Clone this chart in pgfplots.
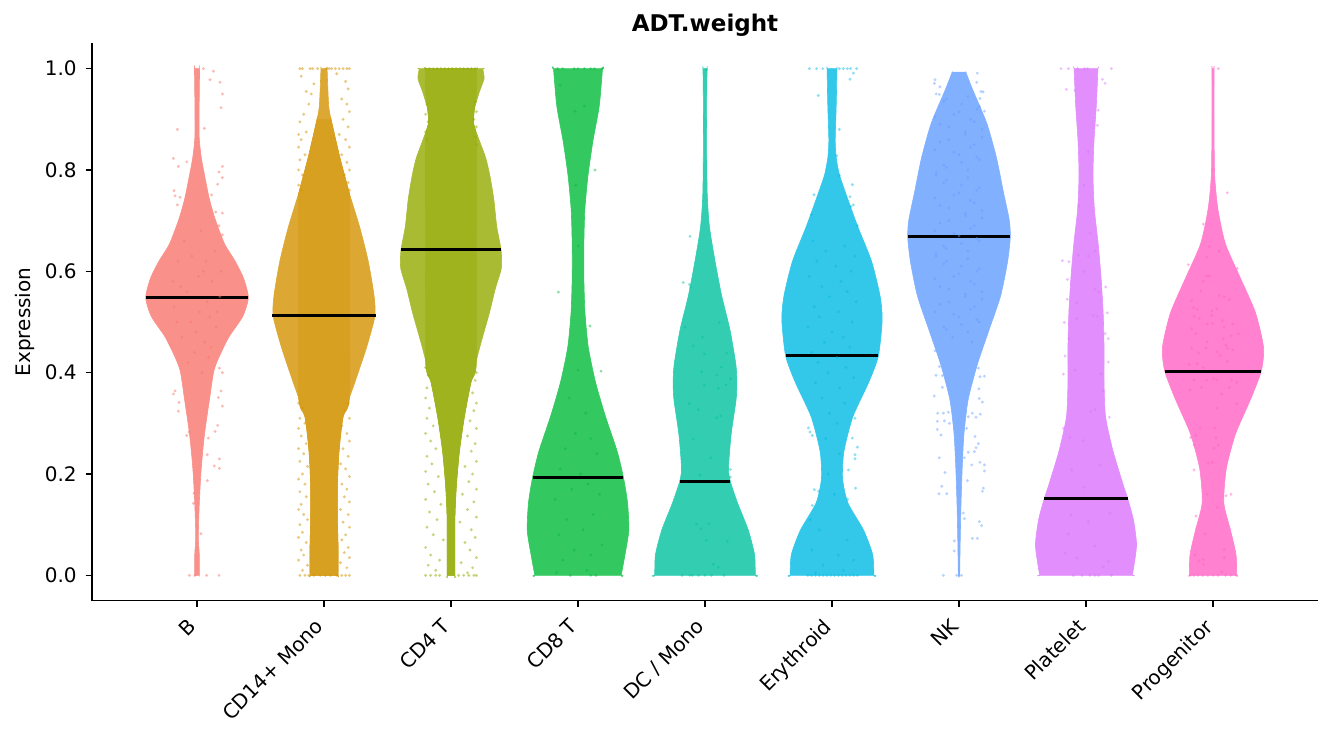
\documentclass[border=0pt]{standalone}
\usepackage{pgfplots}
\pgfplotsset{compat=1.18}
\usepackage{pgfplotstable}
\usepackage{fontspec}
\setmainfont{DejaVu Sans}
% point colours (ggplot hue palette)
\definecolor{cB}{HTML}{F8766D}
\definecolor{cCDf}{HTML}{D39200}
\definecolor{cCDt}{HTML}{93AA00}
\definecolor{cCDe}{HTML}{00BA38}
\definecolor{cDC}{HTML}{00C19F}
\definecolor{cEr}{HTML}{00B9E3}
\definecolor{cNK}{HTML}{619CFF}
\definecolor{cPl}{HTML}{DB72FB}
\definecolor{cPr}{HTML}{FF61C3}
% violin fills (palette at 80% over white)
\definecolor{vB}{HTML}{F9918A}
\definecolor{vCDf}{HTML}{DCA833}
\definecolor{vCDt}{HTML}{A9BB33}
\definecolor{vCDe}{HTML}{33C860}
\definecolor{vDC}{HTML}{33CDB2}
\definecolor{vEr}{HTML}{33C7E9}
\definecolor{vNK}{HTML}{81B0FF}
\definecolor{vPl}{HTML}{E28EFC}
\definecolor{vPr}{HTML}{FF81CF}
% dense point bands
\definecolor{bCDfc}{HTML}{D8A020}
\definecolor{bCDtc}{HTML}{9FB31E}

% violin outlines: y, half width (centre-line ends, corner rows doubled)
\pgfplotstableread[row sep=\\]{y w\\ 1.0 0\\ 1.0 0.02\\ 1.0 0.02\\ 0.872 0.016\\ 0.824 0.034\\ 0.79 0.059\\ 0.742 0.098\\ 0.702 0.144\\ 0.654 0.217\\ 0.62 0.30\\ 0.586 0.367\\ 0.548 0.404\\ 0.511 0.36\\ 0.47 0.25\\ 0.429 0.17\\ 0.402 0.131\\ 0.347 0.098\\ 0.279 0.059\\ 0.211 0.033\\ 0.143 0.018\\ 0.075 0.01\\ 0.041 0.018\\ 0 0.018\\ 0 0.018\\ 0 0\\}\tB
\pgfplotstableread[row sep=\\]{y w\\ 1.0 0\\ 1.0 0.024\\ 1.0 0.024\\ 0.926 0.037\\ 0.892 0.062\\ 0.824 0.125\\ 0.756 0.197\\ 0.688 0.28\\ 0.62 0.348\\ 0.552 0.394\\ 0.511 0.40\\ 0.45 0.335\\ 0.381 0.243\\ 0.313 0.15\\ 0.245 0.118\\ 0.177 0.105\\ 0.109 0.105\\ 0.061 0.11\\ 0 0.11\\ 0 0.11\\ 0 0\\}\tCDf
\pgfplotstableread[row sep=\\]{y w\\ 1.0 0\\ 1.0 0.25\\ 1.0 0.25\\ 0.98 0.26\\ 0.954 0.223\\ 0.92 0.184\\ 0.892 0.177\\ 0.858 0.223\\ 0.824 0.273\\ 0.79 0.305\\ 0.742 0.337\\ 0.688 0.36\\ 0.642 0.394\\ 0.606 0.396\\ 0.565 0.348\\ 0.518 0.302\\ 0.45 0.226\\ 0.381 0.157\\ 0.313 0.105\\ 0.245 0.066\\ 0.177 0.042\\ 0.109 0.03\\ 0 0.03\\ 0 0.03\\ 0 0\\}\tCDt
\pgfplotstableread[row sep=\\]{y w\\ 1.0 0\\ 1.0 0.193\\ 1.0 0.193\\ 0.926 0.167\\ 0.858 0.118\\ 0.79 0.079\\ 0.722 0.054\\ 0.654 0.046\\ 0.586 0.046\\ 0.518 0.055\\ 0.45 0.081\\ 0.381 0.138\\ 0.313 0.217\\ 0.245 0.308\\ 0.193 0.358\\ 0.143 0.39\\ 0.089 0.40\\ 0.041 0.37\\ 0 0.34\\ 0 0.34\\ 0 0\\}\tCDe
\pgfplotstableread[row sep=\\]{y w\\ 1.0 0\\ 1.0 0.016\\ 1.0 0.016\\ 0.892 0.012\\ 0.756 0.017\\ 0.688 0.035\\ 0.62 0.079\\ 0.552 0.131\\ 0.484 0.197\\ 0.416 0.243\\ 0.381 0.251\\ 0.347 0.245\\ 0.279 0.206\\ 0.211 0.185\\ 0.185 0.2\\ 0.143 0.256\\ 0.089 0.341\\ 0.041 0.39\\ 0 0.396\\ 0 0.396\\ 0 0\\}\tDC
\pgfplotstableread[row sep=\\]{y w\\ 1.0 0\\ 1.0 0.039\\ 1.0 0.039\\ 0.926 0.033\\ 0.858 0.025\\ 0.824 0.033\\ 0.79 0.059\\ 0.742 0.125\\ 0.688 0.203\\ 0.62 0.311\\ 0.552 0.378\\ 0.504 0.395\\ 0.433 0.365\\ 0.381 0.289\\ 0.313 0.164\\ 0.245 0.094\\ 0.191 0.083\\ 0.143 0.125\\ 0.089 0.249\\ 0.041 0.32\\ 0 0.33\\ 0 0.33\\ 0 0\\}\tEr
\pgfplotstableread[row sep=\\]{y w\\ 0.993 0\\ 0.993 0.054\\ 0.993 0.054\\ 0.96 0.105\\ 0.892 0.219\\ 0.824 0.295\\ 0.756 0.35\\ 0.702 0.395\\ 0.668 0.404\\ 0.62 0.383\\ 0.552 0.328\\ 0.484 0.236\\ 0.416 0.144\\ 0.347 0.072\\ 0.279 0.039\\ 0.211 0.025\\ 0.143 0.016\\ 0.075 0.01\\ 0 0.005\\ 0 0.005\\ 0 0\\}\tNK
\pgfplotstableread[row sep=\\]{y w\\ 1.0 0\\ 1.0 0.094\\ 1.0 0.094\\ 0.926 0.081\\ 0.858 0.063\\ 0.79 0.055\\ 0.722 0.066\\ 0.654 0.096\\ 0.586 0.119\\ 0.518 0.135\\ 0.45 0.142\\ 0.381 0.142\\ 0.313 0.154\\ 0.245 0.213\\ 0.177 0.295\\ 0.152 0.328\\ 0.109 0.374\\ 0.061 0.398\\ 0.02 0.378\\ 0 0.364\\ 0 0.364\\ 0 0\\}\tPl
\pgfplotstableread[row sep=\\]{y w\\ 1.0 0\\ 1.0 0.008\\ 1.0 0.008\\ 0.892 0.008\\ 0.79 0.013\\ 0.722 0.039\\ 0.654 0.098\\ 0.586 0.217\\ 0.518 0.335\\ 0.45 0.398\\ 0.403 0.38\\ 0.347 0.295\\ 0.279 0.177\\ 0.211 0.105\\ 0.143 0.085\\ 0.089 0.138\\ 0.041 0.181\\ 0 0.186\\ 0 0.186\\ 0 0\\}\tPr
% dense jitter bands (CD14+ Mono, CD4 T)
\pgfplotstableread[row sep=\\]{y w\\ 0.90 0\\ 0.90 0.055\\ 0.90 0.055\\ 0.824 0.125\\ 0.756 0.197\\ 0.74 0.2\\ 0.55 0.2\\ 0.35 0.2\\ 0.313 0.15\\ 0.245 0.118\\ 0.177 0.105\\ 0.109 0.105\\ 0.061 0.11\\ 0 0.11\\ 0 0.11\\ 0 0\\}\bCDf
\pgfplotstableread[row sep=\\]{y w\\ 1.0 0\\ 1.0 0.2\\ 1.0 0.2\\ 0.954 0.2\\ 0.92 0.184\\ 0.892 0.177\\ 0.858 0.2\\ 0.65 0.2\\ 0.42 0.2\\ 0.381 0.157\\ 0.313 0.105\\ 0.245 0.066\\ 0.177 0.042\\ 0.109 0.03\\ 0 0.03\\ 0 0.03\\ 0 0\\}\bCDt

% jittered points: offset d from the category, value y
\pgfplotstableread[row sep=\\]{d y\\ 0.05 1.0\\ 0.129 0.995\\ 0.102 0.978\\ 0.181 0.973\\ 0.2 0.95\\ 0.189 0.923\\ -0.155 0.88\\ 0.058 0.882\\ -0.186 0.823\\ -0.147 0.807\\ -0.081 0.816\\ 0.2 0.807\\ 0.173 0.796\\ 0.2 0.785\\ 0.163 0.772\\ -0.181 0.759\\ -0.173 0.749\\ -0.134 0.746\\ -0.155 0.731\\ 0.115 0.751\\ 0.147 0.717\\ 0.2 0.715\\ 0.173 0.69\\ 0.2 0.672\\ -0.186 0.358\\ -0.173 0.364\\ -0.142 0.341\\ -0.147 0.324\\ 0.176 0.409\\ 0.2 0.40\\ 0.168 0.351\\ 0.2 0.334\\ 0.189 0.364\\ 0.163 0.296\\ 0.142 0.284\\ -0.063 0.283\\ -0.081 0.276\\ 0.089 0.271\\ 0.081 0.238\\ 0.176 0.23\\ 0.136 0.216\\ 0.176 0.211\\ 0.081 0.187\\ -0.024 0.162\\ -0.029 0.142\\ 0.031 0.082\\ -0.06 0\\ -0.016 0\\ 0.076 0\\ 0.173 0\\ -0.15 0.62\\ 0.05 0.60\\ 0.12 0.58\\ -0.08 0.56\\ 0.18 0.55\\ -0.18 0.53\\ 0.02 0.52\\ 0.1 0.51\\ -0.05 0.50\\ 0.15 0.49\\ -0.12 0.47\\ 0.06 0.46\\ -0.02 0.44\\ 0.09 0.43\\ 0.14 0.64\\ -0.1 0.66\\ 0.03 0.68\\ -0.04 0.63\\ 0.19 0.6\\ -0.19 0.58\\ 0.08 0.54\\ -0.13 0.57\\ 0.11 0.45\\ -0.07 0.42\\ 0.01 0.59\\ 0.16 0.52\\ -0.16 0.5\\ 0.07 0.62\\ -0.01 0.48\\ 0.04 0.40\\}\pB
\pgfplotstableread[row sep=\\]{d y\\ -0.19 1\\ -0.17 1\\ -0.11 1\\ -0.09 1\\ -0.05 1\\ 0.02 1\\ 0.04 1\\ 0.06 1\\ 0.09 1\\ 0.12 1\\ 0.15 1\\ 0.18 1\\ 0.2 1\\ -0.18 0.985\\ 0.1 0.99\\ 0.17 0.975\\ -0.08 0.97\\ 0.19 0.96\\ -0.14 0.955\\ 0.14 0.94\\ 0.18 0.93\\ 0.2 0.915\\ 0.15 0.90\\ 0.19 0.885\\ 0.12 0.87\\ 0.17 0.86\\ 0.2 0.845\\ 0.14 0.83\\ 0.18 0.815\\ 0.2 0.80\\ 0.16 0.79\\ 0.19 0.775\\ 0.2 0.76\\ -0.12 0.93\\ -0.16 0.91\\ -0.19 0.895\\ -0.14 0.875\\ -0.18 0.86\\ -0.2 0.845\\ -0.15 0.83\\ -0.19 0.82\\ -0.2 0.80\\ -0.17 0.79\\ -0.2 0.77\\ -0.18 0.76\\ -0.1 0.95\\ -0.2 0.87\\ -0.2 0.34\\ -0.17 0.33\\ -0.19 0.31\\ -0.15 0.30\\ -0.2 0.29\\ -0.18 0.275\\ -0.14 0.26\\ -0.2 0.25\\ -0.16 0.24\\ -0.19 0.225\\ -0.13 0.215\\ -0.17 0.20\\ -0.2 0.19\\ -0.15 0.18\\ -0.19 0.165\\ -0.14 0.155\\ -0.18 0.14\\ -0.2 0.13\\ -0.16 0.12\\ -0.13 0.11\\ -0.19 0.10\\ -0.17 0.085\\ -0.2 0.075\\ -0.14 0.065\\ -0.18 0.05\\ -0.16 0.04\\ -0.2 0.03\\ -0.13 0.02\\ -0.17 0.01\\ 0.19 0.34\\ 0.16 0.325\\ 0.2 0.31\\ 0.14 0.295\\ 0.18 0.28\\ 0.2 0.265\\ 0.15 0.25\\ 0.19 0.235\\ 0.13 0.22\\ 0.17 0.21\\ 0.2 0.195\\ 0.14 0.18\\ 0.18 0.17\\ 0.16 0.155\\ 0.2 0.145\\ 0.13 0.13\\ 0.19 0.12\\ 0.15 0.105\\ 0.2 0.095\\ 0.17 0.08\\ 0.14 0.07\\ 0.19 0.055\\ 0.16 0.045\\ 0.2 0.035\\ 0.13 0.025\\ 0.18 0.015\\ -0.19 0\\ -0.15 0\\ -0.12 0\\ -0.08 0\\ -0.03 0\\ 0.01 0\\ 0.05 0\\ 0.1 0\\ 0.14 0\\ 0.17 0\\ 0.2 0\\}\pCDf
\pgfplotstableread[row sep=\\]{d y\\ -0.2 1\\ -0.17 1\\ -0.14 1\\ -0.11 1\\ -0.08 1\\ -0.05 1\\ -0.02 1\\ 0.01 1\\ 0.04 1\\ 0.07 1\\ 0.1 1\\ 0.13 1\\ 0.16 1\\ 0.19 1\\ -0.19 0.93\\ -0.2 0.91\\ -0.18 0.895\\ -0.2 0.875\\ -0.19 0.86\\ 0.19 0.935\\ 0.2 0.915\\ 0.18 0.9\\ 0.2 0.885\\ 0.19 0.865\\ 0.2 0.85\\ -0.2 0.41\\ -0.18 0.395\\ 0.2 0.40\\ 0.19 0.385\\ -0.19 0.37\\ 0.17 0.36\\ -0.2 0.35\\ 0.2 0.34\\ -0.17 0.33\\ 0.18 0.325\\ -0.19 0.31\\ 0.15 0.305\\ -0.14 0.295\\ 0.2 0.29\\ -0.2 0.28\\ 0.13 0.275\\ -0.16 0.265\\ 0.19 0.26\\ -0.12 0.25\\ 0.16 0.245\\ -0.19 0.235\\ 0.2 0.225\\ -0.15 0.22\\ 0.11 0.215\\ -0.2 0.205\\ 0.17 0.2\\ -0.1 0.195\\ 0.14 0.185\\ -0.18 0.18\\ 0.2 0.17\\ -0.13 0.165\\ 0.09 0.16\\ -0.2 0.15\\ 0.18 0.145\\ -0.08 0.14\\ 0.13 0.13\\ -0.17 0.125\\ 0.2 0.115\\ -0.11 0.11\\ 0.07 0.105\\ -0.19 0.095\\ 0.16 0.09\\ -0.14 0.08\\ 0.19 0.075\\ -0.06 0.07\\ 0.11 0.065\\ -0.2 0.055\\ 0.15 0.05\\ -0.16 0.04\\ 0.2 0.035\\ -0.09 0.03\\ 0.08 0.025\\ -0.18 0.02\\ 0.17 0.015\\ -0.12 0.01\\ 0.13 0.005\\ -0.2 0\\ -0.16 0\\ -0.12 0\\ -0.09 0\\ 0.06 0\\ 0.1 0\\ 0.14 0\\ 0.18 0\\ 0.2 0\\}\pCDt
\pgfplotstableread[row sep=\\]{d y\\ 0.134 0.80\\ -0.155 0.559\\ 0.094 0.492\\ 0.181 0.403\\ -0.018 0.77\\ 0.05 0.926\\ -0.024 0.916\\ -0.14 0.967\\ 0.003 0.65\\ -0.16 1\\ -0.12 1\\ -0.03 1\\ 0.0 1\\ 0.05 1\\ 0.1 1\\ 0.13 1\\ 0.19 1\\ 0.0 0.405\\ -0.07 0.35\\ 0.06 0.32\\ -0.02 0.28\\ 0.1 0.27\\ -0.1 0.25\\ 0.15 0.24\\ -0.14 0.21\\ 0.02 0.2\\ 0.08 0.18\\ -0.05 0.17\\ 0.17 0.16\\ -0.18 0.15\\ 0.12 0.12\\ -0.09 0.11\\ 0.04 0.09\\ -0.15 0.08\\ 0.19 0.06\\ -0.03 0.05\\ 0.1 0.04\\ -0.12 0.03\\ 0.07 0.01\\ -0.17 0.005\\ 0.14 0\\ -0.06 0\\ 0.1 0\\}\pCDe
\pgfplotstableread[row sep=\\]{d y\\ 0.013 0.998\\ -0.118 0.669\\ -0.171 0.578\\ -0.123 0.574\\ -0.113 0.569\\ -0.157 0.49\\ 0.113 0.499\\ -0.021 0.47\\ -0.092 0.453\\ -0.005 0.437\\ 0.171 0.439\\ 0.129 0.411\\ -0.026 0.402\\ 0.2 0.388\\ 0.092 0.395\\ 0.165 0.376\\ -0.005 0.375\\ 0.105 0.369\\ -0.123 0.339\\ -0.052 0.327\\ 0.123 0.315\\ 0.092 0.311\\ -0.092 0.269\\ 0.047 0.232\\ 0.2 0.209\\ 0.2 0.194\\ -0.039 0.198\\ -0.068 0.101\\ 0.031 0.102\\ -0.034 0.092\\ 0.01 0.069\\ 0.176 0.067\\ 0.066 0.022\\ 0.105 0.016\\ -0.18 0\\ -0.12 0\\ -0.1 0\\ -0.05 0\\ 0.0 0\\ 0.05 0\\ 0.15 0\\}\pDC
\pgfplotstableread[row sep=\\]{d y\\ -0.178 1\\ -0.121 1\\ -0.073 1\\ 0.058 1\\ 0.089 1\\ 0.121 1\\ 0.147 1\\ 0.194 1\\ 0.168 0.991\\ 0.142 0.979\\ -0.108 0.947\\ 0.058 0.88\\ 0.037 0.828\\ 0.058 0.789\\ 0.16 0.771\\ -0.142 0.751\\ 0.142 0.747\\ 0.168 0.731\\ 0.15 0.728\\ -0.163 0.712\\ 0.2 0.69\\ -0.186 0.291\\ -0.173 0.283\\ -0.155 0.276\\ 0.181 0.31\\ 0.16 0.271\\ 0.2 0.253\\ 0.181 0.238\\ 0.181 0.23\\ 0.129 0.208\\ -0.139 0.169\\ -0.105 0.166\\ 0.186 0.172\\ 0.123 0.15\\ -0.155 0.138\\ -0.173 0.11\\ -0.15 0.66\\ 0.1 0.65\\ -0.05 0.64\\ 0.18 0.63\\ -0.12 0.62\\ 0.03 0.61\\ 0.15 0.60\\ -0.18 0.59\\ 0.07 0.58\\ -0.08 0.57\\ 0.12 0.56\\ -0.02 0.55\\ 0.19 0.54\\ -0.14 0.53\\ 0.05 0.52\\ -0.1 0.51\\ 0.16 0.50\\ -0.19 0.49\\ 0.0 0.48\\ 0.09 0.47\\ -0.06 0.46\\ 0.14 0.45\\ -0.16 0.44\\ 0.04 0.43\\ -0.11 0.42\\ 0.11 0.41\\ -0.03 0.40\\ 0.17 0.39\\ -0.13 0.38\\ 0.06 0.37\\ -0.08 0.35\\ 0.1 0.34\\ -0.02 0.32\\ 0.04 0.30\\ -0.05 0.27\\ 0.06 0.24\\ -0.03 0.2\\ 0.02 0.16\\ -0.1 0.09\\ 0.12 0.07\\ -0.16 0.05\\ 0.05 0.04\\ 0.17 0.03\\ -0.07 0.02\\ 0.09 0.01\\ -0.13 0.005\\ -0.19 0\\ -0.16 0\\ -0.13 0\\ -0.1 0\\ -0.07 0\\ -0.04 0\\ -0.01 0\\ 0.02 0\\ 0.05 0\\ 0.08 0\\ 0.11 0\\ 0.14 0\\ 0.17 0\\ 0.2 0\\}\pEr
\pgfplotstableread[row sep=\\]{d y\\ -0.189 0.978\\ -0.15 0.964\\ -0.155 0.949\\ 0.144 0.991\\ 0.139 0.973\\ 0.173 0.955\\ 0.19 0.954\\ 0.165 0.941\\ 0.2 0.916\\ -0.194 0.971\\ -0.189 0.443\\ -0.155 0.412\\ -0.181 0.395\\ -0.131 0.394\\ -0.194 0.354\\ -0.131 0.371\\ 0.165 0.392\\ 0.2 0.393\\ 0.152 0.409\\ 0.157 0.368\\ 0.184 0.342\\ 0.16 0.349\\ -0.168 0.32\\ -0.123 0.32\\ -0.084 0.322\\ -0.171 0.304\\ -0.115 0.305\\ -0.076 0.3\\ -0.171 0.288\\ -0.142 0.277\\ 0.073 0.313\\ 0.105 0.32\\ 0.168 0.318\\ 0.134 0.312\\ 0.06 0.29\\ 0.126 0.274\\ 0.152 0.26\\ 0.134 0.252\\ 0.121 0.244\\ 0.073 0.243\\ 0.042 0.232\\ -0.155 0.232\\ 0.1 0.218\\ 0.165 0.223\\ 0.2 0.218\\ 0.2 0.206\\ -0.11 0.203\\ 0.066 0.187\\ -0.136 0.176\\ -0.157 0.161\\ -0.097 0.161\\ 0.192 0.172\\ 0.184 0.166\\ 0.034 0.123\\ 0.042 0.112\\ 0.16 0.106\\ 0.178 0.098\\ 0.105 0.073\\ 0.144 0.073\\ -0.037 0.068\\ -0.037 0.048\\ -0.123 0\\ -0.018 0\\ 0.018 0\\ -0.18 0.95\\ -0.1 0.94\\ 0.02 0.93\\ 0.14 0.92\\ -0.04 0.91\\ 0.09 0.90\\ -0.15 0.89\\ 0.18 0.88\\ 0.05 0.87\\ -0.08 0.86\\ 0.12 0.85\\ -0.19 0.84\\ 0.0 0.83\\ 0.16 0.82\\ -0.12 0.81\\ 0.07 0.80\\ -0.18 0.79\\ -0.1 0.78\\ 0.02 0.77\\ 0.14 0.76\\ -0.04 0.75\\ 0.09 0.74\\ -0.15 0.73\\ 0.18 0.72\\ 0.05 0.71\\ -0.08 0.70\\ 0.12 0.69\\ -0.19 0.68\\ 0.0 0.67\\ 0.16 0.66\\ -0.12 0.65\\ 0.07 0.64\\ -0.18 0.63\\ -0.1 0.62\\ 0.02 0.61\\ 0.14 0.60\\ -0.04 0.59\\ 0.09 0.58\\ -0.15 0.57\\ 0.18 0.56\\ 0.05 0.55\\ -0.08 0.54\\ 0.12 0.53\\ -0.19 0.52\\ 0.0 0.51\\ 0.16 0.50\\ -0.12 0.49\\ 0.07 0.48\\ -0.05 0.47\\ 0.1 0.46\\ 0.07 0.945\\ -0.12 0.935\\ 0.16 0.925\\ 0.0 0.915\\ -0.19 0.905\\ 0.12 0.895\\ -0.08 0.885\\ 0.05 0.875\\ 0.18 0.865\\ -0.15 0.855\\ 0.09 0.845\\ -0.04 0.835\\ 0.14 0.825\\ 0.02 0.815\\ -0.1 0.805\\ -0.18 0.795\\ 0.07 0.785\\ -0.12 0.775\\ 0.16 0.765\\ 0.0 0.755\\ -0.19 0.745\\ 0.12 0.735\\ -0.08 0.725\\ 0.05 0.715\\ 0.18 0.705\\ -0.15 0.695\\ 0.09 0.685\\ -0.04 0.675\\ 0.14 0.665\\ 0.02 0.655\\ -0.1 0.645\\ -0.18 0.635\\ 0.07 0.625\\ -0.12 0.615\\ 0.16 0.605\\ 0.0 0.595\\ -0.19 0.585\\ 0.12 0.575\\ -0.08 0.565\\ 0.05 0.555\\ 0.18 0.545\\ -0.15 0.535\\ 0.09 0.525\\ -0.04 0.515\\ 0.14 0.505\\ 0.02 0.495\\ -0.1 0.485\\}\pNK
\pgfplotstableread[row sep=\\]{d y\\ -0.197 1\\ -0.139 1\\ -0.066 1\\ -0.013 1\\ 0.013 1\\ 0.2 1\\ 0.129 0.979\\ 0.15 0.971\\ -0.155 0.959\\ -0.087 0.957\\ 0.097 0.918\\ 0.089 0.888\\ 0.018 0.836\\ -0.016 0.77\\ -0.055 0.729\\ 0.034 0.676\\ 0.071 0.64\\ -0.06 0.632\\ 0.018 0.63\\ -0.186 0.621\\ -0.134 0.619\\ -0.013 0.6\\ -0.147 0.584\\ 0.155 0.569\\ 0.102 0.559\\ 0.071 0.565\\ -0.147 0.545\\ -0.073 0.538\\ 0.168 0.518\\ 0.089 0.511\\ 0.058 0.513\\ -0.171 0.499\\ -0.073 0.507\\ 0.15 0.477\\ 0.176 0.467\\ -0.134 0.467\\ -0.165 0.433\\ 0.176 0.421\\ -0.178 0.397\\ -0.087 0.405\\ 0.118 0.398\\ 0.136 0.364\\ 0.037 0.324\\ 0.071 0.327\\ 0.184 0.312\\ -0.178 0.29\\ -0.126 0.272\\ -0.021 0.266\\ 0.11 0.218\\ -0.113 0.208\\ -0.016 0.174\\ 0.189 0.123\\ -0.118 0.119\\ 0.018 0.106\\ -0.139 0.082\\ 0.071 0.058\\ -0.165 0.044\\ 0.176 0.027\\ -0.073 0.034\\ 0.136 0.017\\ -0.1 0\\ -0.03 0\\ 0.03 0\\ 0.07 0\\ 0.1 0\\ 0.2 0\\}\pPl
\pgfplotstableread[row sep=\\]{d y\\ 0.042 1.0\\ 0.113 0.755\\ -0.076 0.693\\ -0.194 0.613\\ 0.192 0.606\\ -0.029 0.649\\ 0.045 0.64\\ -0.05 0.628\\ -0.05 0.591\\ -0.029 0.591\\ -0.076 0.581\\ -0.097 0.561\\ -0.168 0.542\\ 0.05 0.552\\ 0.087 0.55\\ 0.129 0.544\\ 0.029 0.526\\ -0.155 0.528\\ -0.123 0.525\\ -0.008 0.522\\ -0.149 0.511\\ -0.108 0.507\\ -0.01 0.513\\ 0.076 0.503\\ -0.045 0.496\\ 0.155 0.496\\ -0.005 0.497\\ -0.168 0.487\\ -0.134 0.477\\ 0.087 0.49\\ 0.2 0.477\\ 0.142 0.473\\ 0.081 0.467\\ -0.045 0.461\\ -0.168 0.448\\ 0.102 0.454\\ 0.115 0.448\\ -0.055 0.448\\ 0.034 0.441\\ 0.155 0.445\\ -0.115 0.439\\ 0.055 0.434\\ 0.113 0.422\\ -0.186 0.416\\ -0.123 0.418\\ -0.076 0.41\\ -0.149 0.385\\ 0.003 0.388\\ 0.029 0.386\\ -0.089 0.371\\ -0.05 0.385\\ 0.147 0.385\\ 0.186 0.381\\ -0.181 0.366\\ 0.129 0.371\\ 0.068 0.358\\ 0.186 0.339\\ 0.034 0.33\\ -0.102 0.29\\ 0.016 0.291\\ -0.176 0.272\\ -0.136 0.276\\ -0.149 0.257\\ 0.024 0.271\\ 0.008 0.251\\ 0.042 0.257\\ -0.037 0.221\\ -0.005 0.223\\ -0.149 0.208\\ -0.045 0.16\\ 0.102 0.157\\ 0.142 0.16\\ 0.034 0.134\\ -0.134 0.117\\ -0.063 0.082\\ 0.089 0.051\\ 0.089 0.035\\ -0.142 0.04\\ -0.108 0.029\\ -0.076 0.022\\ -0.076 0.031\\ 0.068 0.007\\ 0.186 0\\ -0.18 0\\ -0.15 0\\ -0.12 0\\ -0.08 0\\ -0.04 0\\ 0.0 0\\ 0.04 0\\ 0.1 0\\ 0.14 0\\}\pPr

% one half of a violin: centre, table, colour, side (+ or -)
\newcommand{\half}[4]{%
  \addplot[fill=#3, draw=#3, line width=0.3pt, line join=round, smooth, tension=0.4, forget plot] table[x expr=#1#4\thisrow{w}, y=y]{#2} -- cycle;
}
\newcommand{\violin}[3]{\half{#1}{#2}{#3}{+}\half{#1}{#2}{#3}{-}}
\newcommand{\pts}[4]{%
  \addplot[only marks, mark=*, mark size=0.8pt, color=#3, mark options={draw opacity=0, fill opacity=#4}, forget plot] table[x expr=#1+\thisrow{d}, y=y]{#2};
}

\begin{document}
\begin{tikzpicture}
\begin{axis}[
  scale only axis, width=613pt, height=278.7pt,
  at={(46pt,66.15pt)}, anchor=south west,
  xmin=0.173, xmax=9.827, ymin=-0.05, ymax=1.05,
  axis x line*=bottom, axis y line*=left,
  axis line style={-, line width=0.6pt, black},
  xtick={1,2,3,4,5,6,7,8,9},
  xticklabels={B, CD14+ Mono, CD4 T, CD8 T, DC / Mono, Erythroid, NK, Platelet, Progenitor},
  ytick={0,0.2,0.4,0.6,0.8,1},
  yticklabels={0.0,0.2,0.4,0.6,0.8,1.0},
  tick align=outside, major tick length=3.15pt,
  tick style={black, line width=0.6pt},
  xticklabel style={rotate=45, anchor=north east, inner sep=0pt, xshift=-7pt, font=\fontsize{10}{12}\selectfont},
  yticklabel style={anchor=east, inner sep=0pt, xshift=-4.3pt, font=\fontsize{10}{12}\selectfont},
]
\violin{1}{\tB}{vB}
\violin{2}{\tCDf}{vCDf}
\violin{3}{\tCDt}{vCDt}
\violin{4}{\tCDe}{vCDe}
\violin{5}{\tDC}{vDC}
\violin{6}{\tEr}{vEr}
\violin{7}{\tNK}{vNK}
\violin{8}{\tPl}{vPl}
\violin{9}{\tPr}{vPr}
\violin{2}{\bCDf}{bCDfc}
\violin{3}{\bCDt}{bCDtc}
\pts{1}{\pB}{cB}{0.5}
\pts{2}{\pCDf}{cCDf}{0.5}
\pts{3}{\pCDt}{cCDt}{0.5}
\pts{4}{\pCDe}{cCDe}{0.45}
\pts{5}{\pDC}{cDC}{0.45}
\pts{6}{\pEr}{cEr}{0.45}
\pts{7}{\pNK}{cNK}{0.45}
\pts{8}{\pPl}{cPl}{0.45}
\pts{9}{\pPr}{cPr}{0.45}
\addplot[black, line width=1.5pt, forget plot] coordinates {(0.596,0.548) (1.404,0.548)};
\addplot[black, line width=1.5pt, forget plot] coordinates {(1.593,0.512) (2.407,0.512)};
\addplot[black, line width=1.5pt, forget plot] coordinates {(2.606,0.643) (3.394,0.643)};
\addplot[black, line width=1.5pt, forget plot] coordinates {(3.642,0.194) (4.358,0.194)};
\addplot[black, line width=1.5pt, forget plot] coordinates {(4.8,0.185) (5.2,0.185)};
\addplot[black, line width=1.5pt, forget plot] coordinates {(5.635,0.433) (6.365,0.433)};
\addplot[black, line width=1.5pt, forget plot] coordinates {(6.596,0.668) (7.404,0.668)};
\addplot[black, line width=1.5pt, forget plot] coordinates {(7.672,0.152) (8.328,0.152)};
\addplot[black, line width=1.5pt, forget plot] coordinates {(8.62,0.403) (9.38,0.403)};
\end{axis}
\node[anchor=base, inner sep=0pt, font=\bfseries\fontsize{11.5}{13.8}\selectfont] at (352.5pt,350.65pt) {ADT.weight};
\node[rotate=90, inner sep=0pt, font=\fontsize{10}{12}\selectfont] at (12.5pt,205.5pt) {Expression};
\path (0,0) rectangle (667pt,366.5pt);
\end{tikzpicture}
\end{document}
